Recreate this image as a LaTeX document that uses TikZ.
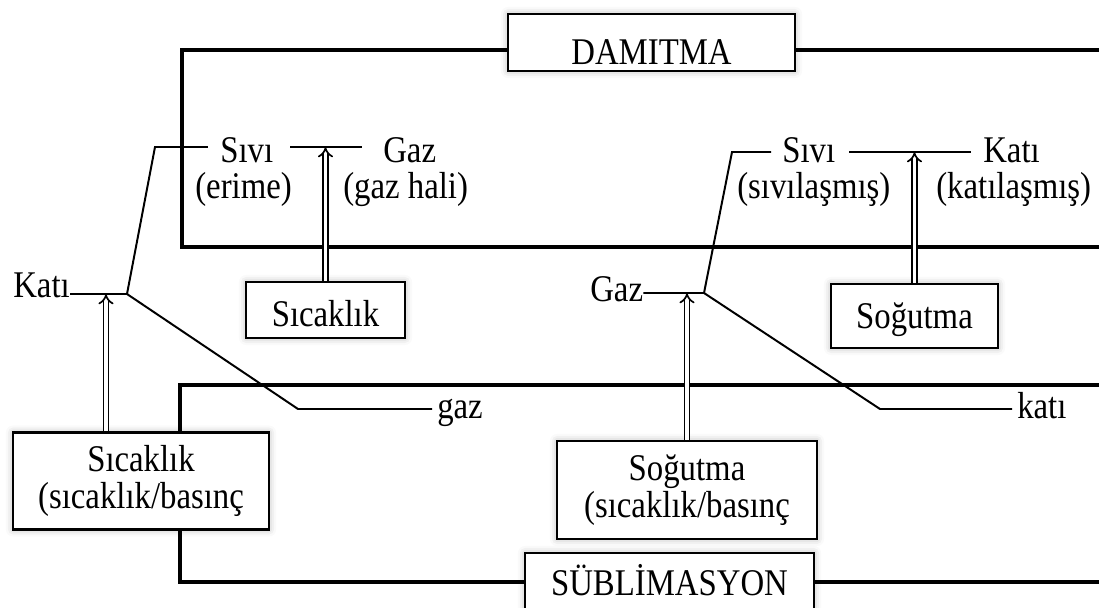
\documentclass[tikz,border=0pt]{standalone}
\usepackage{fontspec}
\setmainfont{Liberation Serif}[FakeStretch=0.87]
\usetikzlibrary{arrows.meta,calc,shadows.blur}

\tikzset{
  frame/.style={line width=2.8pt},
  conn/.style={line width=1.4pt},
  box/.style={draw, line width=1.9pt, fill=white, inner xsep=0pt, inner ysep=0pt,
    blur shadow={shadow xshift=0pt, shadow yshift=0pt, shadow blur radius=5pt, shadow opacity=30}},
  lbl/.style={inner sep=0pt, anchor=base west},
  dbl/.style={double, line width=1.2pt, double distance=2.4pt, -{Implies}},
}

\begin{document}
\begin{tikzpicture}[x=0.025cm, y=-0.025cm, font=\fontsize{26.8}{26.3}\selectfont]
    \useasboundingbox (0,0) rectangle (1099,607);
    \clip (0,0) rectangle (1099,607);

    % Frames
    \draw[frame] (1110,50) -- (182,50) -- (182,247) -- (1110,247);
    \draw[frame] (1110,385) -- (180,385) -- (180,582) -- (1110,582);

    % Boxes
    \node[box, anchor=base, minimum width=7.175cm, text height=1.25cm, text depth=0.175cm] (damitma) at (651.5,64) {DAMITMA};
    \node[box, anchor=base, minimum width=7.225cm, text height=1.05cm, text depth=0.7cm] (sublim) at (669.5,595) {SÜBLİMASYON};
    \node[box, anchor=base, minimum width=3.975cm, text height=1.1cm, text depth=0.3cm] (sicakT) at (325.5,326) {Sıcaklık};
    \node[box, anchor=base, minimum width=4.175cm, text height=1.1cm, text depth=0.5cm] (sogT) at (914.5,328) {Soğutma};
    \node[box, align=center, minimum width=6.4cm, minimum height=2.425cm] (sicakB) at (141,481) {Sıcaklık\\(sıcaklık/basınç};
    \node[box, align=center, minimum width=6.5cm, minimum height=2.45cm] (sogB) at (687,490) {Soğutma\\(sıcaklık/basınç};

    % Labels
    \node[lbl] (kati) at (13,297) {Katı};
    \node[lbl] (sivL) at (220,162) {Sıvı};
    \node[lbl] (erime) at (195,198) {(erime)};
    \node[lbl] (gazT) at (383,162) {Gaz};
    \node[lbl] (gazhali) at (343,198) {(gaz hali)};
    \node[lbl] (gazB) at (437,418) {gaz};
    \node[lbl] (gazM) at (590,301) {Gaz};
    \node[lbl] (sivR) at (782,162) {Sıvı};
    \node[lbl] (sivilas) at (737,198) {(sıvılaşmış)};
    \node[lbl] (katiR) at (983,162) {Katı};
    \node[lbl] (katilas) at (936,198) {(katılaşmış)};
    \node[lbl] (katiB) at (1017,418) {katı};

    % Branch points
    \coordinate (jL) at (127,294);
    \coordinate (sL) at (155,147);
    \coordinate (dL) at (298,409);
    \coordinate (jR) at (704,293);
    \coordinate (sR) at (732,152);
    \coordinate (dR) at (880,409);

    % Left branches
    \draw[conn, shorten >=0.3cm] (jL -| kati.east) -- (jL) -- (sL) -- (sL -| sivL.west);
    \draw[conn, shorten >=0.125cm] (jL) -- (dL) -- (dL -| gazB.west);
    \draw[conn, shorten <=0.425cm, shorten >=0.525cm] (sL -| sivL.east) -- (sL -| gazT.west);

    % Right branches
    \draw[conn, shorten >=0.275cm] (jR -| gazM.east) -- (jR) -- (sR) -- (sR -| sivR.west);
    \draw[conn, shorten >=0.125cm] (jR) -- (dR) -- (dR -| katiB.west);
    \draw[conn, shorten <=0.35cm, shorten >=0.3cm] (sR -| sivR.east) -- (sR -| katiR.west);

    % Arrows
    \coordinate (aL) at ([xshift=-0.875cm]sicakB.north);
    \draw[dbl] (aL) -- (aL |- jL);
    \draw[dbl] (sicakT.north) -- (sicakT.north |- sL);
    \draw[dbl] (sogB.north) -- (sogB.north |- jR);
    \draw[dbl] (sogT.north) -- (sogT.north |- sR);
\end{tikzpicture}
\end{document}
